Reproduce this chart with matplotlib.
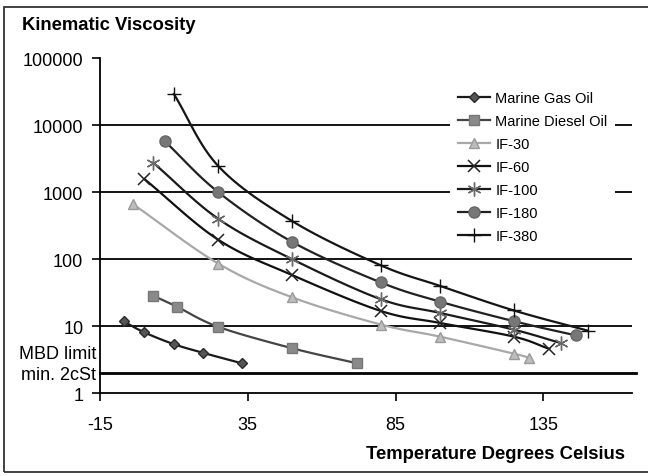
import numpy as np
import matplotlib
matplotlib.use("Agg")
import matplotlib.pyplot as plt
from matplotlib.patches import Rectangle

plt.rcParams['font.family'] = ['Liberation Sans', 'DejaVu Sans']

# values
names = ['Marine Gas Oil', 'Marine Diesel Oil', 'IF-30', 'IF-60', 'IF-100', 'IF-180', 'IF-380']
temps_mgo = [-7, 0, 10, 20, 33]
visc_mgo = [11.8, 8.1, 5.4, 4.0, 2.8]
temps_mdo = [3, 11, 25, 50, 72]
visc_mdo = [28.5, 19.6, 9.8, 4.7, 2.8]
temps_if30 = [-4, 25, 50, 80, 100, 125, 130]
visc_if30 = [670, 86, 27, 10.6, 7.0, 3.9, 3.4]
temps_if60 = [0, 25, 50, 80, 100, 125, 137]
visc_if60 = [1570, 195, 58, 16.9, 11.2, 7.0, 4.6]
temps_if100 = [3, 25, 50, 80, 100, 125, 141]
visc_if100 = [2750, 400, 100, 25.3, 15.8, 8.9, 5.6]
temps_if180 = [7, 25, 50, 80, 100, 125, 146]
visc_if180 = [5700, 1000, 181, 45, 23.3, 11.9, 7.3]
temps_if380 = [10, 25, 50, 80, 100, 125, 150]
visc_if380 = [29000, 2450, 370, 81, 40, 17.2, 8.6]
limit_cst = 2
yticks = [1, 10, 100, 1000, 10000, 100000]
xticks = [-15, 35, 85, 135]

series = [
    (temps_mgo, visc_mgo, dict(color='#1a1a1a', marker='D', ms=5.5, mfc='#555555', mec='#2a2a2a')),
    (temps_mdo, visc_mdo, dict(color='#454545', marker='s', ms=7.5, mfc='#8a8a8a', mec='#777777')),
    (temps_if30, visc_if30, dict(color='#a8a8a8', marker='^', ms=7, mfc='#bdbdbd', mec='#9a9a9a')),
    (temps_if60, visc_if60, dict(color='#111111', marker='x', ms=8, mew=1.1, mec='#222222')),
    (temps_if100, visc_if100, dict(color='#1a1a1a', marker=(6, 2, 0), ms=10, mew=1.0, mec='#6a6a6a')),
    (temps_if180, visc_if180, dict(color='#222222', marker='o', ms=8, mfc='#777777', mec='#666666')),
    (temps_if380, visc_if380, dict(color='#151515', marker='+', ms=10, mew=1.0, mec='#111111')),
]


def smooth(x, y, n=20):
    # catmull-rom curve in (x, log y) just for drawing the line like excel does
    x = np.asarray(x, float)
    ly = np.log10(y)
    px = np.concatenate([[2 * x[0] - x[1]], x, [2 * x[-1] - x[-2]]])
    py = np.concatenate([[2 * ly[0] - ly[1]], ly, [2 * ly[-1] - ly[-2]]])
    xs, ys = [], []
    t = np.linspace(0, 1, n)
    for i in range(1, len(px) - 2):
        for arr, out in ((px, xs), (py, ys)):
            p0, p1, p2, p3 = arr[i - 1], arr[i], arr[i + 1], arr[i + 2]
            out.extend(0.5 * (2 * p1 + (-p0 + p2) * t + (2 * p0 - 5 * p1 + 4 * p2 - p3) * t ** 2
                              + (-p0 + 3 * p1 - 3 * p2 + p3) * t ** 3))
    return np.array(xs), 10 ** np.array(ys)


fig = plt.figure(figsize=(6.48, 4.77), dpi=100)
ax = fig.add_axes([100 / 648, 1 - 394.3 / 477, 532 / 648, 335.3 / 477])

for yv in yticks[1:-1]:
    ax.axhline(yv, color='black', lw=1.3, zorder=1)
ax.axhline(limit_cst, color='black', lw=2.0, zorder=1, xmax=1.008, clip_on=False)

for (tx, vy, st), name in zip(series, names):
    sx, sy = smooth(tx, vy)
    ax.plot(sx, sy, color=st['color'], lw=1.6, zorder=2)
    mst = {k: v for k, v in st.items() if k != 'color'}
    ax.plot(tx, vy, ls='none', zorder=3, **mst)
    # legend proxy
    ax.plot([], [], color=st['color'], lw=1.6, label=name, **mst)

ax.set_yscale('log')
ax.set_xlim(-15, 165)
ax.set_ylim(1, 100000)
ax.set_xticks(xticks)
ax.set_xticklabels([str(v) for v in xticks])
ax.set_yticks(yticks)
ax.set_yticklabels([str(v) for v in yticks])
ax.minorticks_off()
ax.tick_params(axis='both', labelsize=13, length=6, width=1.2, color='black')
ax.tick_params(axis='x', pad=10)
ax.tick_params(axis='y', pad=6)
for s in ['top', 'right']:
    ax.spines[s].set_visible(False)
for s in ['left', 'bottom']:
    ax.spines[s].set_linewidth(1.3)

leg = ax.legend(loc='upper left', bbox_to_anchor=(450 / 648, 1 - 84 / 477),
                bbox_transform=fig.transFigure, fontsize=10.5, numpoints=1,
                frameon=True, fancybox=False, framealpha=1, edgecolor='none',
                facecolor='white', borderaxespad=0, borderpad=0.55,
                handlelength=2.2, handletextpad=0.35, labelspacing=0.62)
leg.set_zorder(5)

fig.text(22 / 648, 1 - 25 / 477, 'Kinematic Viscosity', fontsize=13.3,
         fontweight='bold', ha='left', va='center')
fig.text(625 / 648, 1 - 455 / 477, 'Temperature Degrees Celsius', fontsize=13.3,
         fontweight='bold', ha='right', va='center')
fig.text(96 / 648, 1 - 355 / 477, 'MBD limit', fontsize=13, ha='right', va='center')
fig.text(96 / 648, 1 - 376 / 477, 'min. 2cSt', fontsize=13, ha='right', va='center')

# outer chart border
fig.patches.append(Rectangle((3.5 / 648, 1 - 473 / 477), 1, 465 / 477,
                             transform=fig.transFigure, fill=False,
                             edgecolor='#333333', lw=1.3))

fig.savefig('out.png', dpi=100)
